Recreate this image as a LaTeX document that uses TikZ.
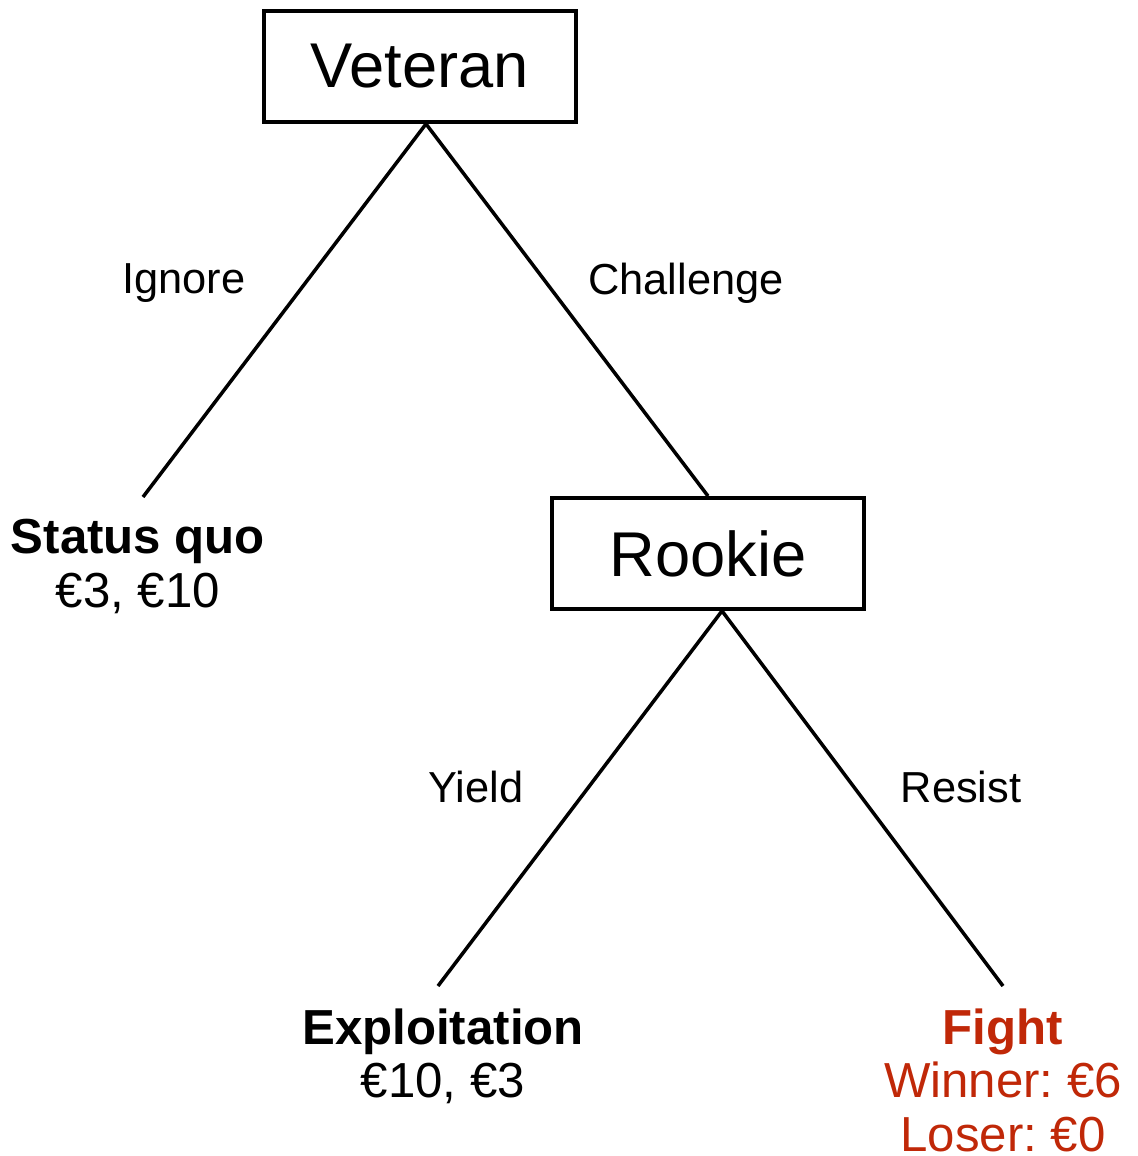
\documentclass[tikz,border=0pt]{standalone}
\usepackage{fontspec}
\setmainfont{Liberation Sans}
\frenchspacing
\usetikzlibrary{positioning}
\definecolor{fightred}{RGB}{192,40,8}

\begin{document}
\begin{tikzpicture}[x=0.02cm, y=-0.02cm,
    player node/.style={draw, line width=2.2pt, minimum width=6.24cm, minimum height=2.22cm, inner sep=0pt, font=\fontsize{36}{40}\selectfont},
    move label/.style={font=\fontsize{24.7}{28}\selectfont},
    outcome node/.style={anchor=north, align=center, inner xsep=0pt, inner ysep=0.44cm, font=\fontsize{28}{30.7}\selectfont},
    branch/.style={line width=2pt}]
    \useasboundingbox (0,0) rectangle (1138,1156);

    \node[player node] (veteran) at (420,66.5) {Veteran};
    \node[player node] (rookie) at (708,553.5) {Rookie};

    \node[outcome node] (statusquo) at (138,497) {\textbf{Status quo}\\€3, €10};
    \node[outcome node] (exploit) at (443,986) {\textbf{Exploitation}\\€10, €3};
    \node[outcome node, text=fightred] (fight) at (1003,986) {\textbf{Fight}\\Winner: €6\\Loser: €0};

    \draw[branch] ([xshift=0.12cm]veteran.south) -- ([xshift=0.1cm]statusquo.north);
    \draw[branch] ([xshift=0.12cm]veteran.south) -- (rookie.north);
    \draw[branch] ([xshift=0.28cm]rookie.south) -- ([xshift=-0.1cm]exploit.north);
    \draw[branch] ([xshift=0.28cm]rookie.south) -- (fight.north);

    \node[move label] (ignore) at (184,283) {Ignore};
    \node[move label] (challenge) at (686,283) {Challenge};
    \node[move label] (yield) at (476,787) {Yield};
    \node[move label] (resist) at (961,787) {Resist};
\end{tikzpicture}
\end{document}
